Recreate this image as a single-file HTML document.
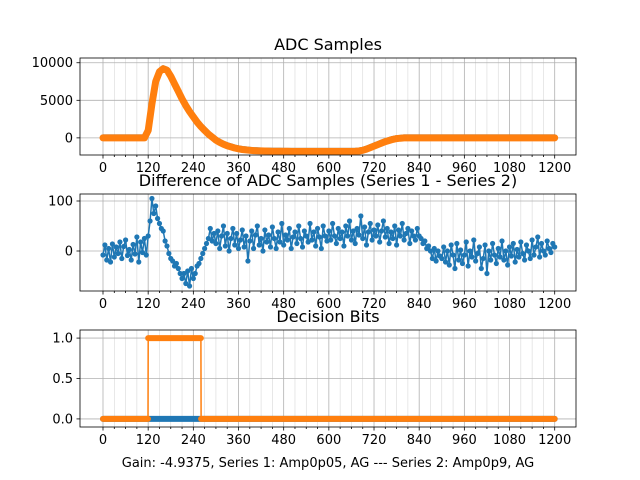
<!DOCTYPE html>
<html><head><meta charset="utf-8"><style>
body{margin:0;background:#fff;}
svg{display:block;font-family:"DejaVu Sans","Liberation Sans",sans-serif;}
</style></head><body>
<svg id="fig" width="640" height="480" viewBox="0 0 640 480" xmlns="http://www.w3.org/2000/svg"></svg>
<script>
const xTicks=[0,120,240,360,480,600,720,840,960,1080,1200];
const adcY=[0,5000,10000];
const diffY=[0,100];
const bitY=[0.0,0.5,1.0];
const adc2=[0,0,0,0,0,0,0,0,0,0,0,0,
1000,4500,7500,8800,9200,9000,8200,7200,6200,5200,4300,3500,2800,2100,1500,1000,500,100,-300,-600,-850,-1050,-1200,-1350,-1450,-1550,-1600,-1650,-1700,
-1720,-1740,-1750,-1760,-1770,-1780,-1780,-1790,-1790,-1800,-1800,-1800,-1800,-1800,-1800,-1800,-1800,-1800,-1800,-1800,-1800,-1800,-1800,-1800,-1800,-1800,-1790,
-1750,-1650,-1500,-1300,-1100,-900,-700,-500,-350,-200,-100,-50,
0,0,0,0,0,0,0,0,0,0,0,0,0,0,0,0,0,0,0,0,0,0,0,0,0,0,0,0,0,0,0,0,0,0,0,0,0,0,0,0,0];
const adc1=adc2.map(v=>v+60);
const diff=[-8,12,-18,5,-22,14,-12,8,-5,18,-15,9,22,-9,3,-18,13,-6,28,-22,18,-3,25,-8,
30,60,105,75,90,65,55,45,40,20,10,-5,-15,-20,-30,-25,-35,-45,-55,-45,-65,-40,-70,-35,-55,-45,-30,-25,
-15,-5,5,15,25,45,20,35,
15,40,5,30,50,10,35,0,25,45,12,35,5,22,42,8,30,-20,20,40,5,32,50,12,25,0,42,18,32,8,48,25,5,38,18,55,12,32,22,45,5,28,38,15,50,25,8,40,30,18,55,22,38,10,45,28,5,50,30,20,
40,22,55,30,15,45,25,38,10,50,30,60,22,40,15,45,32,70,25,48,12,38,55,22,42,30,52,18,40,60,28,45,15,38,25,50,12,42,30,55,22,35,45,15,40,30,22,45,
30,25,15,20,5,10,0,-15,5,-20,0,-10,
-15,8,-22,0,-28,12,-8,-35,15,-18,2,-25,-8,18,-30,0,-12,22,-20,-5,8,-35,-15,12,-45,0,-18,15,-8,-25,5,-12,20,-18,0,-28,8,-10,15,-22,3,-12,18,-5,-18,12,0,-15,22,-8,8,28,-12,15,0,-8,20,5,-3,15,8];
const bits1=new Array(121).fill(0);
const bitsX=[0,119.5,120,260,260.5,1200];
const bits2=[0,0,1,1,0,0];

const NS="http://www.w3.org/2000/svg";
const svg=document.getElementById('fig');
function mk(tag,attrs,parent){const e=document.createElementNS(NS,tag);for(const k in attrs)e.setAttribute(k,attrs[k]);(parent||svg).appendChild(e);return e;}
const L=80,R=576;
const xs=v=>103+(v/1200)*451.7;
function panel(name,top,bot,ymin,ymax,yt,fmt,title){
  const g=mk('g',{});
  
  
  const ys=v=>bot-(v-ymin)/(ymax-ymin)*(bot-top);
  for(let v=0;v<=1200;v+=30){
    const major=v%120===0;
    const l=mk('line',{x1:xs(v),x2:xs(v),y1:top,y2:bot,stroke:major?'#b0b0b0':'#d8d8d8','stroke-width':major?0.8:0.6},g);
    
    
    mk('line',{x1:xs(v),x2:xs(v),y1:bot,y2:bot+(major?3.5:2),stroke:'#000','stroke-width':0.8},g);
  }
  xTicks.forEach(v=>{
    const t=mk('text',{x:xs(v),y:bot+17,'text-anchor':'middle','font-size':13},g);t.textContent=v;
    
    
  });
  yt.forEach(v=>{
    mk('line',{x1:L,x2:R,y1:ys(v),y2:ys(v),stroke:'#b0b0b0','stroke-width':0.8},g);
    mk('line',{x1:L-3.5,x2:L,y1:ys(v),y2:ys(v),stroke:'#000','stroke-width':0.8},g);
    const t=mk('text',{x:L-7,y:ys(v)+4.5,'text-anchor':'end','font-size':13},g);t.textContent=fmt(v);
    
    
  });
  const tt=mk('text',{x:328,y:top-8,'text-anchor':'middle','font-size':16},g);tt.textContent=title;
  
  
  return {g,ys,top,bot};
}
function series(p,arr,step,color,lw,r,name){
  const pts=arr.map((v,i)=>xs(i*step).toFixed(1)+','+p.ys(v).toFixed(1)).join(' ');
  const pl=mk('polyline',{points:pts,fill:'none',stroke:color,'stroke-width':lw,'stroke-linejoin':'round','stroke-linecap':'round'},p.g);
  
  
  if(r>0)arr.forEach((v,i)=>{const c=mk('circle',{cx:xs(i*step),cy:p.ys(v),r:r,fill:color},p.g);
    
    });
}
function frame(p){mk('rect',{x:L,y:p.top,width:R-L,height:p.bot-p.top,fill:'none',stroke:'#000','stroke-width':0.8},p.g);}

const p1=panel('adc',58,155,-2280,10630,adcY,v=>v,'ADC Samples');
series(p1,adc1,10,'#1f77b4',6,0,'adc-series-1');
series(p1,adc2,10,'#ff7f0e',7,0,'adc-series-2');
frame(p1);
const p2=panel('diff',194,291,-80,114,diffY,v=>v,'Difference of ADC Samples (Series 1 - Series 2)');
series(p2,diff,5,'#1f77b4',1.5,2.6,'diff-series');
frame(p2);
const p3=panel('bits',330,427,-0.1,1.1,bitY,v=>v.toFixed(1),'Decision Bits');
series(p3,bits1,10,'#1f77b4',6,0,'bits-series-1');
(function(){
  const pts=bits2.map((v,i)=>xs(bitsX[i]).toFixed(1)+','+p3.ys(v).toFixed(1)).join(' ');
  const pl=mk('polyline',{points:pts,fill:'none',stroke:'#ff7f0e','stroke-width':1.5},p3.g);
  
  
  for(let i=0;i<bits2.length-1;i++){
    if(bits2[i]!==bits2[i+1])continue;
    const b=mk('line',{x1:xs(bitsX[i]),x2:xs(bitsX[i+1]),y1:p3.ys(bits2[i]),y2:p3.ys(bits2[i]),stroke:'#ff7f0e','stroke-width':6,'stroke-linecap':'round'},p3.g);
    
    
  }
})();
frame(p3);
const xl=mk('text',{x:328,y:467,'text-anchor':'middle','font-size':13});
xl.textContent='Gain: -4.9375, Series 1: Amp0p05, AG --- Series 2: Amp0p9, AG';


</script>
</body></html>
